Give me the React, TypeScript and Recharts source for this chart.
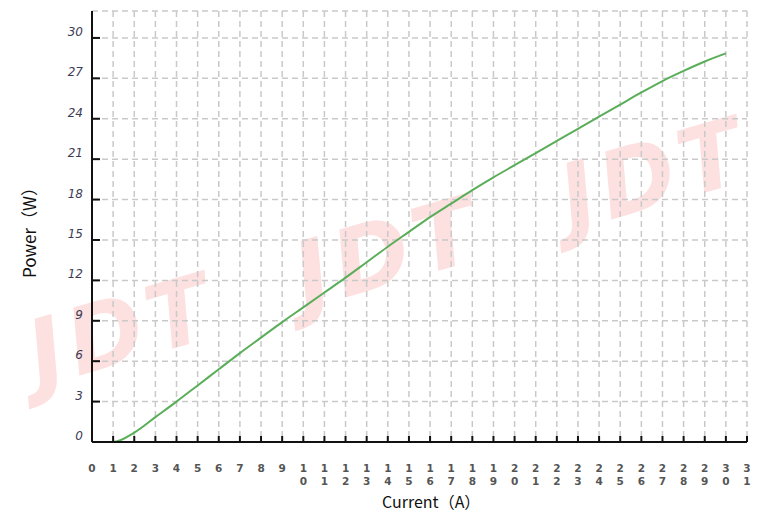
import { LineChart, Line, XAxis, YAxis, CartesianGrid, Label } from "recharts";

const current = [0, 1, 2, 3, 4, 5, 6, 7, 8, 9, 10, 11, 12, 13, 14, 15, 16, 17, 18, 19, 20, 21, 22, 23, 24, 25, 26, 27, 28, 29, 30];
const power = [0, 0, 0.7, 1.85, 3.0, 4.2, 5.4, 6.6, 7.75, 8.9, 10.0, 11.1, 12.2, 13.35, 14.5, 15.6, 16.7, 17.7, 18.7, 19.65, 20.55, 21.45, 22.35, 23.25, 24.15, 25.05, 25.95, 26.8, 27.55, 28.25, 28.85];
const xTicks = [0, 1, 2, 3, 4, 5, 6, 7, 8, 9, 10, 11, 12, 13, 14, 15, 16, 17, 18, 19, 20, 21, 22, 23, 24, 25, 26, 27, 28, 29, 30, 31];
const yTicks = [0, 3, 6, 9, 12, 15, 18, 21, 24, 27, 30];
const watermarks = ["JDT", "JDT", "JDT"];

const data = current.map((c, i) => ({ current: c, power: power[i] }));

const YTick = ({ x, y, payload }: any) => (
  <g>
    <line x1={x} y1={y} x2={x + 8} y2={y} stroke="#111" strokeWidth={2} />
    <text
      x={x - 9}
      y={y - 2}
      textAnchor="end"
      fontFamily="DejaVu Sans"
      fontStyle="italic"
      fontSize={12}
      fill="#3c3c55"
    >
      {payload.value}
    </text>
  </g>
);

const XTick = ({ x, y, payload }: any) => {
  const digits = String(payload.value).split("");
  return (
    <g>
      <line x1={x} y1={y} x2={x} y2={y - 6} stroke="#111" strokeWidth={2} />
      {digits.map((d, i) => (
        <text
          key={i}
          x={x}
          y={y + 30 + i * 13}
          textAnchor="middle"
          fontFamily="DejaVu Sans"
          fontWeight="bold"
          fontSize={10.5}
          fill="#555"
        >
          {d}
        </text>
      ))}
    </g>
  );
};

export default function App() {
  return (
    <div style={{ position: "absolute", left: 0, top: 0, width: 771, height: 517, background: "#fff" }}>
      <svg width={771} height={517} style={{ position: "absolute", left: 0, top: 0 }}>
        {watermarks.map((w, i) => {
          const cx = 122 + i * 266;
          const cy = 330 - i * 78;
          return (
            <text
              key={i}
              x={cx}
              y={cy + 32}
              textAnchor="middle"
              fontFamily="DejaVu Sans"
              fontWeight="bold"
              fontStyle="italic"
              fontSize={92}
              letterSpacing={6}
              fill="#fde0e0"
              transform={`rotate(-16 ${cx} ${cy})`}
            >
              {w}
            </text>
          );
        })}
      </svg>
      <div style={{ position: "absolute", left: 0, top: 0 }}>
        <LineChart width={771} height={517} data={data} margin={{ top: 11, right: 24, left: 0, bottom: 0 }}>
          <CartesianGrid stroke="#c9c9c9" strokeWidth={1.5} strokeDasharray="6 4" />
          <XAxis
            dataKey="current"
            type="number"
            domain={[0, 31]}
            ticks={xTicks}
            interval={0}
            height={75}
            tickSize={0}
            tickMargin={0}
            tickLine={false}
            tick={<XTick />}
            axisLine={{ stroke: "#111", strokeWidth: 2 }}
          >
            <Label
              content={({ viewBox }: any) => (
                <text
                  x={viewBox.x + 290}
                  y={viewBox.y + 66}
                  fontFamily="Noto Sans CJK SC"
                  fontSize={16}
                  fill="#111"
                >
                  Current（A）
                </text>
              )}
            />
          </XAxis>
          <YAxis
            type="number"
            domain={[0, 32]}
            ticks={yTicks}
            interval={0}
            width={92}
            tickSize={0}
            tickMargin={0}
            tickLine={false}
            tick={<YTick />}
            axisLine={{ stroke: "#111", strokeWidth: 2 }}
          >
            <Label
              content={() => (
                <text
                  x={36}
                  y={278}
                  transform="rotate(-90 36 278)"
                  fontFamily="Noto Sans CJK SC"
                  fontSize={17}
                  fill="#111"
                >
                  Power（W）
                </text>
              )}
            />
          </YAxis>
          <Line
            type="monotone"
            dataKey="power"
            stroke="#5aae5a"
            strokeWidth={2}
            dot={false}
            isAnimationActive={false}
          />
        </LineChart>
      </div>
    </div>
  );
}
